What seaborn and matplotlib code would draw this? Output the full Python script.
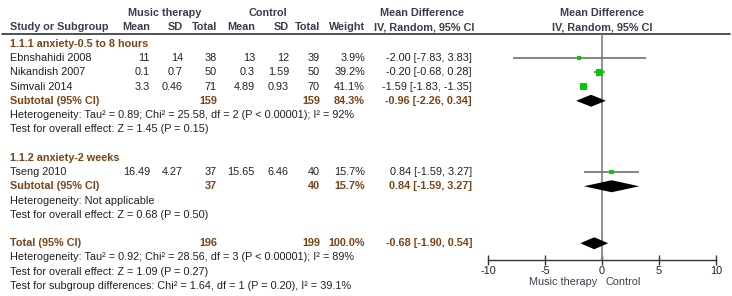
import numpy as np
import seaborn as sns
import matplotlib.pyplot as plt

# study level data
studies = ["Ebnshahidi 2008", "Nikandish 2007", "Simvali 2014", "Tseng 2010"]
study_rows = [0, 1, 2, 8]
mt_mean = ["11", "0.1", "3.3", "16.49"]
mt_sd = ["14", "0.7", "0.46", "4.27"]
mt_n = [38, 50, 71, 37]
ct_mean = ["13", "0.3", "4.89", "15.65"]
ct_sd = ["12", "1.59", "0.93", "6.46"]
ct_n = [39, 50, 70, 40]
weights = [3.9, 39.2, 41.1, 15.7]
md = [-2.00, -0.20, -1.59, 0.84]
md_lo = [-7.83, -0.68, -1.83, -1.59]
md_hi = [3.83, 0.28, -1.35, 3.27]

# pooled estimates (subtotal 1, subtotal 2, total)
pool_rows = [3, 9, 13]
pool_labels = ["Subtotal (95% CI)", "Subtotal (95% CI)", "Total (95% CI)"]
pool_mt_n = [159, 37, 196]
pool_ct_n = [159, 40, 199]
pool_weight = [84.3, 15.7, 100.0]
pool_md = [-0.96, 0.84, -0.68]
pool_lo = [-2.26, -1.59, -1.90]
pool_hi = [0.34, 3.27, 0.54]

group_heads = ["1.1.1 anxiety-0.5 to 8 hours", "1.1.2 anxiety-2 weeks"]
group_rows = [-1, 7]
notes = [
    (4, "Heterogeneity: Tau\u00b2 = 0.89; Chi\u00b2 = 25.58, df = 2 (P < 0.00001); I\u00b2 = 92%"),
    (5, "Test for overall effect: Z = 1.45 (P = 0.15)"),
    (10, "Heterogeneity: Not applicable"),
    (11, "Test for overall effect: Z = 0.68 (P = 0.50)"),
    (14, "Heterogeneity: Tau\u00b2 = 0.92; Chi\u00b2 = 28.56, df = 3 (P < 0.00001); I\u00b2 = 89%"),
    (15, "Test for overall effect: Z = 1.09 (P = 0.27)"),
    (16, "Test for subgroup differences: Chi\u00b2 = 1.64, df = 1 (P = 0.20), I\u00b2 = 39.1%"),
]
xticks = [-10, -5, 0, 5, 10]

sns.set_theme(style="white")
plt.rcParams["font.family"] = ["Liberation Sans", "DejaVu Sans"]
plt.rcParams["axes.unicode_minus"] = False

HEAD = "#3c3c50"
BROWN = "#7a4418"
TXT = "#202020"
FS = 7.85


def row_y(k):
    return 58 + 14.25 * k


fig = plt.figure(figsize=(7.32, 2.96), dpi=100)
ax_t = fig.add_axes([0, 0, 1, 1])
ax_t.set_xlim(0, 732)
ax_t.set_ylim(296, 0)
ax_t.axis("off")

def put(x, y, s, ha="left", color=TXT, bold=False):
    ax_t.text(x, y, s, ha=ha, va="center", fontsize=FS, color=color,
              fontweight="bold" if bold else "normal")

# header
put(165, 13, "Music therapy", ha="center", color=HEAD, bold=True)
put(268, 13, "Control", ha="center", color=HEAD, bold=True)
put(422, 13, "Mean Difference", ha="center", color=HEAD, bold=True)
put(602, 13, "Mean Difference", ha="center", color=HEAD, bold=True)
cols = [(10, "Study or Subgroup", "left"), (150, "Mean", "right"), (183, "SD", "right"),
        (217, "Total", "right"), (255, "Mean", "right"), (289, "SD", "right"),
        (320, "Total", "right"), (365, "Weight", "right"), (424, "IV, Random, 95% CI", "center"),
        (602, "IV, Random, 95% CI", "center")]
for x, s, ha in cols:
    put(x, 27.5, s, ha=ha, color=HEAD, bold=True)
ax_t.plot([2, 730], [34, 34], color="#333333", lw=1.2)

for k, s in zip(group_rows, group_heads):
    put(10, row_y(k), s, color=BROWN, bold=True)

for i, name in enumerate(studies):
    y = row_y(study_rows[i])
    put(10, y, name)
    put(150, y, mt_mean[i], ha="right")
    put(183, y, mt_sd[i], ha="right")
    put(217, y, str(mt_n[i]), ha="right")
    put(255, y, ct_mean[i], ha="right")
    put(289, y, ct_sd[i], ha="right")
    put(320, y, str(ct_n[i]), ha="right")
    put(365, y, f"{weights[i]:.1f}%", ha="right")
    put(472, y, f"{md[i]:.2f} [{md_lo[i]:.2f}, {md_hi[i]:.2f}]", ha="right")

for i, lab in enumerate(pool_labels):
    y = row_y(pool_rows[i])
    put(10, y, lab, color=BROWN, bold=True)
    put(217, y, str(pool_mt_n[i]), ha="right", color=BROWN, bold=True)
    put(320, y, str(pool_ct_n[i]), ha="right", color=BROWN, bold=True)
    put(365, y, f"{pool_weight[i]:.1f}%", ha="right", color=BROWN, bold=True)
    put(472, y, f"{pool_md[i]:.2f} [{pool_lo[i]:.2f}, {pool_hi[i]:.2f}]", ha="right",
        color=BROWN, bold=True)

for k, s in notes:
    put(10, row_y(k), s)

# forest plot
ax = fig.add_axes([488 / 732, 36 / 296, 228 / 732, 226 / 296])
ax.patch.set_alpha(0)
ax.set_xlim(-10, 10)
ax.set_ylim(260, 34)
ax.axvline(0, color="#808080", lw=1.2, zorder=1)

ys = [row_y(k) for k in study_rows]
ax.hlines(ys, md_lo, md_hi, color="#6f6f6f", lw=1.2, zorder=2)
# square area grows with weight, smallest one still visible
sns.scatterplot(x=md, y=ys, size=weights, sizes=(6, 27),
                size_norm=(3.9, 41.1), marker="s", color="#00cc00", linewidth=0,
                legend=False, ax=ax, zorder=3)

for i in range(len(pool_md)):
    y = row_y(pool_rows[i])
    ax.fill([pool_lo[i], pool_md[i], pool_hi[i], pool_md[i]],
            [y, y - 6, y, y + 6], color="black", lw=0, zorder=4)

for side in ["left", "right", "top"]:
    ax.spines[side].set_visible(False)
ax.spines["bottom"].set_color("#333333")
ax.spines["bottom"].set_linewidth(1.0)
ax.set_yticks([])
ax.set_xticks(xticks)
ax.set_xticklabels([str(t) for t in xticks])
ax.tick_params(axis="x", direction="inout", length=7, width=1, color="#333333",
               labelsize=FS, labelcolor=TXT, pad=1, bottom=True)
ax.set_xlabel("")
ax.set_ylabel("")

put(597, 282, "Music therapy", ha="right", color=HEAD)
put(606, 282, "Control", ha="left", color=HEAD)

fig.savefig("out.png", dpi=100)
